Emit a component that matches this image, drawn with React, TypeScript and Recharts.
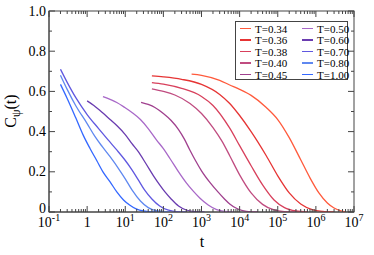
import React from "react";
import { LineChart, Line, XAxis, YAxis, Legend } from "recharts";

// correlation curves C_psi(t), [t, C]
const T034 = [[550, 0.686], [1000, 0.68], [3000, 0.655], [5500, 0.632], [10000, 0.61], [20000, 0.58], [50000, 0.52], [100000, 0.46], [200000, 0.37], [400000, 0.26], [700000, 0.17], [1200000, 0.095], [2000000, 0.045], [3000000, 0.02], [4500000, 0.006], [6000000, 0.001]];
const T036 = [[50, 0.677], [100, 0.672], [300, 0.66], [1000, 0.635], [3000, 0.585], [5500, 0.54], [10000, 0.48], [20000, 0.4], [50000, 0.28], [100000, 0.18], [200000, 0.095], [400000, 0.04], [800000, 0.012], [1500000, 0.003], [3000000, 0]];
const T038 = [[50, 0.644], [100, 0.636], [300, 0.615], [1000, 0.575], [2000, 0.53], [5500, 0.417], [10000, 0.33], [20000, 0.23], [40000, 0.135], [80000, 0.06], [150000, 0.022], [300000, 0.005], [600000, 0]];
const T040 = [[50, 0.613], [100, 0.6], [200, 0.582], [500, 0.54], [1000, 0.49], [2000, 0.42], [3500, 0.35], [5500, 0.28], [10000, 0.185], [20000, 0.095], [40000, 0.038], [80000, 0.01], [150000, 0.002], [300000, 0]];
const T045 = [[26, 0.546], [40, 0.535], [60, 0.52], [100, 0.49], [160, 0.455], [250, 0.41], [350, 0.365], [490, 0.31], [700, 0.255], [1000, 0.205], [1700, 0.145], [2700, 0.1], [4000, 0.065], [5500, 0.04], [8000, 0.02], [12000, 0.007], [20000, 0.001], [30000, 0]];
const T050 = [[2.6, 0.574], [4, 0.56], [6, 0.545], [9.7, 0.52], [15, 0.495], [25, 0.46], [40, 0.415], [65, 0.36], [100, 0.315], [150, 0.265], [250, 0.2], [400, 0.145], [600, 0.105], [900, 0.07], [1500, 0.035], [2500, 0.012], [4000, 0.003], [7000, 0]];
const T060 = [[1, 0.553], [1.5, 0.53], [2.5, 0.495], [4, 0.46], [6, 0.43], [10, 0.385], [15, 0.34], [22, 0.3], [35, 0.24], [55, 0.18], [80, 0.135], [110, 0.1], [160, 0.065], [250, 0.03], [400, 0.01], [700, 0.002], [1200, 0]];
const T070 = [[0.2, 0.71], [0.3, 0.645], [0.5, 0.57], [1, 0.485], [2, 0.415], [3.5, 0.36], [5.9, 0.31], [9.7, 0.26], [15, 0.21], [22, 0.16], [32, 0.11], [50, 0.065], [80, 0.03], [130, 0.01], [250, 0.001], [400, 0]];
const T080 = [[0.2, 0.68], [0.3, 0.61], [0.5, 0.53], [1, 0.44], [1.6, 0.376], [2.5, 0.325], [4, 0.275], [7, 0.21], [10, 0.165], [15, 0.11], [25, 0.055], [40, 0.022], [70, 0.005], [150, 0]];
const T100 = [[0.2, 0.635], [0.3, 0.565], [0.5, 0.47], [0.8, 0.38], [1.2, 0.315], [1.8, 0.255], [2.6, 0.2], [4, 0.15], [6, 0.1], [9, 0.06], [13, 0.035], [20, 0.014], [30, 0.005], [50, 0.001], [80, 0]];

const LABELS = ["T=0.34", "T=0.36", "T=0.38", "T=0.40", "T=0.45", "T=0.50", "T=0.60", "T=0.70", "T=0.80", "T=1.00"];
const CURVES = [T034, T036, T038, T040, T045, T050, T060, T070, T080, T100];
const COLORS = ["#ff5a3c", "#e63434", "#d8405c", "#c04c80", "#a0408e", "#a868c8", "#6a3cb0", "#6058e0", "#5f88f0", "#3468ff"];

const X_DECADES = [-1, 0, 1, 2, 3, 4, 5, 6, 7];
const X_EXPONENTS = ["-1", "", "1", "2", "3", "4", "5", "6", "7"];
const Y_TICKS = [0, 0.1, 0.2, 0.3, 0.4, 0.5, 0.6, 0.7, 0.8, 0.9, 1.0];

const X_TICKS: number[] = [];
X_DECADES.forEach((d) => {
  const maxK = d === 7 ? 1 : 9;
  for (let k = 1; k <= maxK; k++) X_TICKS.push(k * Math.pow(10, d));
});

const W = 374;
const H = 255;
const M = { top: 11, right: 20, bottom: 0, left: 0 };
const Y_AXIS_W = 49;
const X_AXIS_H = 43;
const PLOT = { x: M.left + Y_AXIS_W, y: M.top, w: W - M.left - Y_AXIS_W - M.right, h: H - M.top - X_AXIS_H - M.bottom };

const FONT = "'Liberation Serif', 'DejaVu Serif', serif";
const AXIS = "#444";

const series = CURVES.map((arr) => arr.map(([t, c]) => ({ t, c })));

function decadeOf(v: number) {
  const lg = Math.log10(v);
  return Math.abs(lg - Math.round(lg)) < 1e-6 ? Math.round(lg) : null;
}

const isMajorY = (v: number) => Math.round(v * 10) % 2 === 0;

function XTick(props: any) {
  const { x, y, payload } = props;
  const d = decadeOf(payload.value);
  const len = d !== null ? 6 : 3;
  return (
    <g>
      <line x1={x} x2={x} y1={y} y2={y - len} stroke={AXIS} strokeWidth={1} />
      {/* mirrored tick on the top edge */}
      <line x1={x} x2={x} y1={PLOT.y} y2={PLOT.y + len} stroke={AXIS} strokeWidth={1} />
      {d !== null && (
        <text x={x} y={y + 15} textAnchor="middle" style={{ fontFamily: FONT }} fontSize={14} fill="#000">
          {d === 0 ? "1" : "10"}
          {d !== 0 && (
            <tspan dy={-6} fontSize={10}>
              {X_EXPONENTS[d + 1]}
            </tspan>
          )}
        </text>
      )}
    </g>
  );
}

function YTick(props: any) {
  const { x, y, payload } = props;
  const v = payload.value;
  const major = isMajorY(v);
  const len = major ? 6 : 3;
  const xr = PLOT.x + PLOT.w;
  return (
    <g>
      <line x1={x} x2={x + len} y1={y} y2={y} stroke={AXIS} strokeWidth={1} />
      {/* mirrored tick on the right edge */}
      <line x1={xr} x2={xr - len} y1={y} y2={y} stroke={AXIS} strokeWidth={1} />
      {major && (
        <text x={x - 3} y={v === 0 ? y + 1 : y + 4.5} textAnchor="end" style={{ fontFamily: FONT }} fontSize={14} fill="#000">
          {v === 0 ? "0" : v.toFixed(1)}
        </text>
      )}
    </g>
  );
}

function LegendBox() {
  const rows = [0, 1, 2, 3, 4];
  return (
    <div
      style={{
        border: `1px solid ${AXIS}`,
        background: "#fff",
        width: 113,
        height: 59,
        boxSizing: "border-box",
        position: "relative",
        fontFamily: FONT,
        fontSize: 11,
      }}
    >
      {[0, 1].map((col) =>
        rows.map((r) => {
          const i = col * 5 + r;
          return (
            <div
              key={i}
              style={{ position: "absolute", left: col === 0 ? 4 : 66, top: 0.5 + r * 11.5, display: "flex", alignItems: "center", height: 12, whiteSpace: "nowrap" }}
            >
              <span style={{ display: "inline-block", width: 11, height: 1.5, background: COLORS[i], marginRight: 4 }} />
              <span>{LABELS[i]}</span>
            </div>
          );
        })
      )}
    </div>
  );
}

export default function App() {
  return (
    <div style={{ position: "absolute", left: 0, top: 0, width: W, height: H, background: "#fff" }}>
      <LineChart width={W} height={H} margin={M}>
        <rect x={PLOT.x} y={PLOT.y} width={PLOT.w} height={PLOT.h} fill="none" stroke={AXIS} strokeWidth={1} />
        <XAxis
          dataKey="t"
          type="number"
          scale="log"
          domain={[0.1, 1e7]}
          allowDataOverflow
          ticks={X_TICKS}
          interval={0}
          height={X_AXIS_H}
          tickSize={0}
          tickMargin={0}
          stroke={AXIS}
          tick={<XTick />}
        />
        <YAxis
          type="number"
          domain={[0, 1]}
          allowDataOverflow
          ticks={Y_TICKS}
          interval={0}
          width={Y_AXIS_W}
          tickSize={0}
          tickMargin={0}
          stroke={AXIS}
          tick={<YTick />}
        />
        {series.map((pts, i) => (
          <Line
            key={LABELS[i]}
            data={pts}
            dataKey="c"
            name={LABELS[i]}
            type="monotone"
            stroke={COLORS[i]}
            strokeWidth={1.3}
            dot={false}
            isAnimationActive={false}
          />
        ))}
        <Legend
          layout="vertical"
          align="center"
          verticalAlign="middle"
          content={() => <LegendBox />}
          wrapperStyle={{ left: 235, top: 21, width: 113, height: 59 }}
        />
        <text x={202} y={247} textAnchor="middle" style={{ fontFamily: FONT }} fontSize={16} fill="#000">
          t
        </text>
        <text x={16} y={111} transform="rotate(-90 16 111)" textAnchor="middle" style={{ fontFamily: FONT }} fontSize={16} fill="#000">
          C<tspan dy={4} fontSize={12}>ψ</tspan>
          <tspan dy={-4}>(t)</tspan>
        </text>
      </LineChart>
    </div>
  );
}
